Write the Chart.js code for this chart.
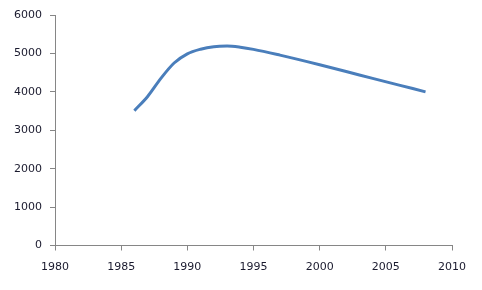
<!DOCTYPE html>
<html>
<head>
<meta charset="utf-8">
<script src="https://cdn.jsdelivr.net/npm/chart.js@4/dist/chart.umd.min.js"></script>
<style>
    html, body { margin: 0; padding: 0; background: #fff; }
    #wrap { width: 482px; height: 290px; }
</style>
</head>
<body>
<div id="wrap"><canvas id="chartContainer" width="482" height="290"></canvas></div>
<script>
// values
var years = [1986, 1987, 1988, 1989, 1990, 1991, 1992, 1993, 1994, 1995, 1997, 2000, 2002, 2004, 2006, 2008];
var amounts = [3510, 3880, 4350, 4750, 4990, 5110, 5175, 5190, 5160, 5105, 4955, 4705, 4530, 4350, 4175, 4000];
var xTicks = [1980, 1985, 1990, 1995, 2000, 2005, 2010];
var yTicks = [0, 1000, 2000, 3000, 4000, 5000, 6000];

var points = [];
for (var i = 0; i < years.length; i++) {
    points.push({ x: years[i], y: amounts[i] });
}

var axisGray = "#868686";
var labelColor = "#1a1a2e";

var myChart = new Chart(document.getElementById("chartContainer"), {
    type: 'line',
    data: {
        datasets: [{
            data: points,
            borderColor: "#4a7ebb",
            borderWidth: 3,
            pointRadius: 0,
            cubicInterpolationMode: 'monotone',
            fill: false,
            borderCapStyle: 'butt'
        }]
    },
    options: {
        responsive: false,
        animation: false,
        layout: { padding: { left: 0, right: 30, top: 15, bottom: 0 } },
        plugins: { legend: { display: false }, tooltip: { enabled: false } },
        scales: {
            x: {
                type: 'linear',
                min: xTicks[0],
                max: xTicks[xTicks.length - 1],
                afterBuildTicks: function (scale) {
                    scale.ticks = xTicks.map(function (v) { return { value: v }; });
                },
                afterFit: function (scale) { scale.height = 44.5; },
                grid: { drawOnChartArea: false, color: axisGray, tickLength: 5 },
                border: { color: axisGray, width: 1 },
                ticks: {
                    color: labelColor,
                    padding: 10,
                    maxRotation: 0,
                    autoSkip: false,
                    font: { family: "DejaVu Sans", size: 11 },
                    callback: function (v) { return String(v); }
                }
            },
            y: {
                min: 0,
                max: 6000,
                afterBuildTicks: function (scale) {
                    scale.ticks = yTicks.map(function (v) { return { value: v }; });
                },
                afterFit: function (scale) { scale.width = 55; },
                grid: { drawOnChartArea: false, color: axisGray, tickLength: 5 },
                border: { color: axisGray, width: 1 },
                ticks: {
                    color: labelColor,
                    padding: 8,
                    autoSkip: false,
                    font: { family: "DejaVu Sans", size: 11 },
                    callback: function (v) { return String(v); }
                }
            }
        }
    }
});
</script>
</body>
</html>
